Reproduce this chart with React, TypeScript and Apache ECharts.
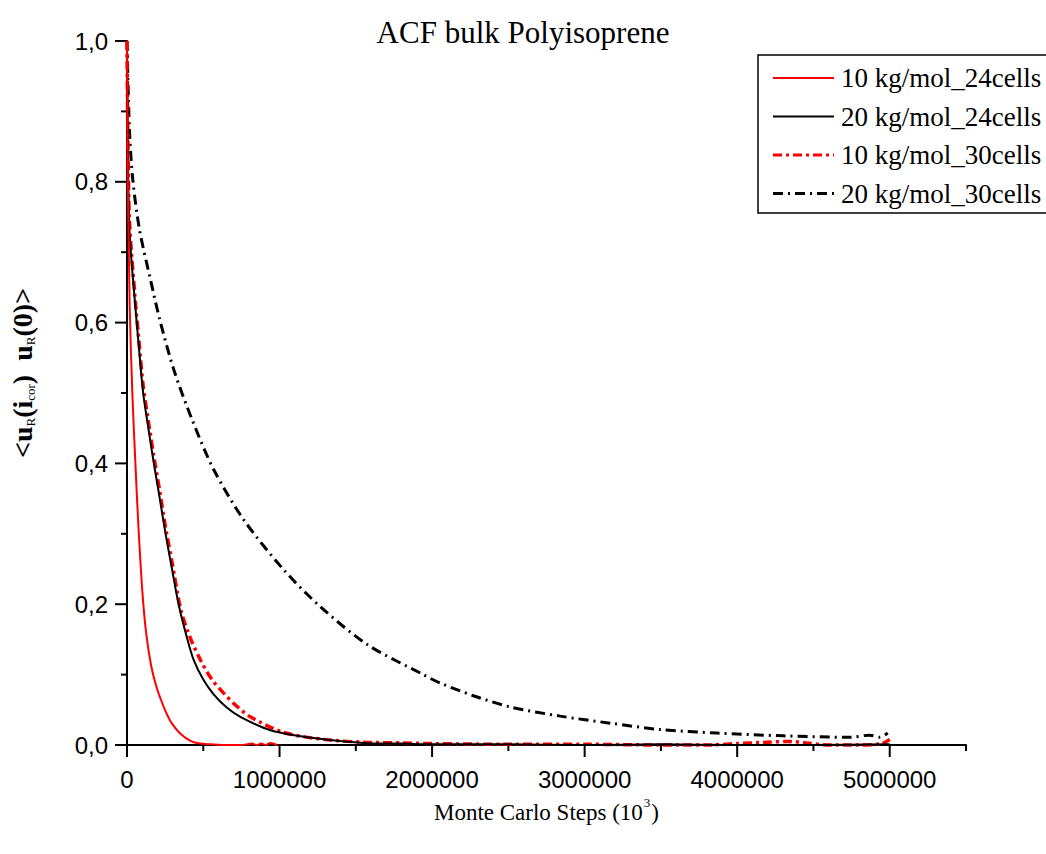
import React, { useEffect, useRef } from "react";
import * as echarts from "echarts";

const seriesNames = [
  "10 kg/mol_24cells",
  "20 kg/mol_24cells",
  "10 kg/mol_30cells",
  "20 kg/mol_30cells",
];

// 10 kg/mol, 24 cells
const steps10k24 = [0, 6000, 18000, 35000, 55000, 75000, 100000, 125000, 158000, 190000, 230000, 263000, 296000, 350000, 416000, 480000, 550000, 620000, 700000, 760000, 820000, 850000, 880000, 910000, 940000, 985000];
const acf10k24 = [1.0, 0.8, 0.62, 0.5, 0.4, 0.31, 0.22, 0.16, 0.113, 0.085, 0.06, 0.043, 0.03, 0.016, 0.006, 0.002, 0.001, 0.0, 0.0, 0.0, 0.002, 0.0, 0.002, 0.0, 0.003, 0.0];

// 20 kg/mol, 24 cells
const steps20k24 = [0, 5000, 16000, 51000, 80000, 106000, 140000, 176000, 215000, 252000, 295000, 338000, 390000, 437000, 500000, 568000, 650000, 743000, 940000, 1222000, 1550000, 1800000, 2000000, 2500000, 3000000, 3500000, 4000000, 4500000, 5000000];
const acf20k24 = [1.0, 0.87, 0.732, 0.632, 0.56, 0.5, 0.45, 0.4, 0.35, 0.301, 0.25, 0.2, 0.155, 0.121, 0.093, 0.072, 0.054, 0.04, 0.021, 0.01, 0.003, 0.002, 0.001, 0.001, 0.0, 0.001, 0.0, 0.0, 0.001];

// 10 kg/mol, 30 cells
const steps10k30 = [0, 5000, 16000, 51000, 80000, 106000, 140000, 176000, 215000, 252000, 295000, 353000, 415000, 481000, 550000, 632000, 720000, 808000, 1025000, 1290000, 1550000, 1800000, 2000000, 2500000, 3000000, 3500000, 3800000, 4000000, 4200000, 4350000, 4450000, 4600000, 4800000, 4950000, 5000000];
const acf10k30 = [1.0, 0.88, 0.745, 0.64, 0.57, 0.51, 0.46, 0.41, 0.36, 0.31, 0.26, 0.192, 0.152, 0.121, 0.095, 0.074, 0.055, 0.04, 0.018, 0.008, 0.004, 0.003, 0.002, 0.001, 0.001, 0.0, 0.0, 0.002, 0.004, 0.005, 0.003, 0.0, 0.0, 0.002, 0.008];

// 20 kg/mol, 30 cells
const steps20k30 = [0, 16000, 38000, 82000, 154000, 215000, 307000, 427000, 569000, 765000, 1027000, 1260000, 1573000, 1942000, 2053000, 2271000, 2513000, 2840000, 3168000, 3495000, 3865000, 4302000, 4740000, 4869000, 4935000, 4987000];
const acf20k30 = [1.0, 0.874, 0.803, 0.732, 0.661, 0.604, 0.533, 0.462, 0.391, 0.32, 0.249, 0.198, 0.143, 0.1, 0.088, 0.07, 0.054, 0.041, 0.031, 0.022, 0.017, 0.013, 0.011, 0.014, 0.011, 0.017];

// axis ticks
const xMajorTicks = [0, 1000000, 2000000, 3000000, 4000000, 5000000];
const xMinorTicks = [500000, 1500000, 2500000, 3500000, 4500000, 5500000];
const yMajorTicks = [0, 0.2, 0.4, 0.6, 0.8, 1.0];
const yMinorTicks = [0.1, 0.3, 0.5, 0.7, 0.9];

const pairs = (xs: number[], ys: number[]) => xs.map((x, i) => [x, ys[i]]);

const seriesStyles = [
  { color: "#ff0000", width: 2, type: "solid" as any },
  { color: "#000000", width: 2, type: "solid" as any },
  { color: "#ff0000", width: 3.5, type: [9, 4, 3, 4] as any },
  { color: "#000000", width: 3, type: [10, 5, 2, 5] as any },
];

const seriesData = [
  pairs(steps10k24, acf10k24),
  pairs(steps20k24, acf20k24),
  pairs(steps10k30, acf10k30),
  pairs(steps20k30, acf20k30),
];

const SERIF = "Liberation Serif";
const SANS = "Liberation Sans";

export default function App() {
  const ref = useRef<HTMLDivElement>(null);
  useEffect(() => {
    if (!ref.current) return;
    const chart = echarts.init(ref.current, undefined, { renderer: "svg" });

    chart.setOption({
      animation: false,
      backgroundColor: "#fff",
      title: {
        text: "ACF bulk Polyisoprene",
        left: "center",
        top: 12,
        textStyle: { fontFamily: SERIF, fontSize: 31, fontWeight: "normal", color: "#000" },
      },
      grid: { left: 126, right: 80, top: 41, bottom: 109 },
      xAxis: {
        type: "value",
        min: 0,
        max: 5500000,
        interval: 1000000,
        name: "{n|Monte Carlo Steps (10}{sup|3}{n|)}",
        nameLocation: "middle",
        nameGap: 51,
        nameTextStyle: {
          rich: {
            n: { fontFamily: SERIF, fontSize: 23, color: "#000", lineHeight: 28, verticalAlign: "bottom" },
            sup: { fontFamily: SERIF, fontSize: 13, color: "#000", lineHeight: 28, verticalAlign: "top", padding: [0, 1, 0, 1] },
          },
        },
        axisLine: { show: true, onZero: false, lineStyle: { color: "#000", width: 2 } },
        axisTick: { show: false },
        axisLabel: {
          margin: 22,
          fontFamily: SANS,
          fontSize: 24,
          color: "#000",
          formatter: (v: number) => (v % 1000000 === 0 ? String(Math.round(v)) : ""),
        },
        splitLine: { show: false },
      },
      yAxis: {
        type: "value",
        min: 0,
        max: 1,
        interval: 0.2,
        name: "{b0|<u}{s|R}{b|(i}{s|cor}{b|)  u}{s|R}{b|(0)>}",
        nameLocation: "middle",
        nameRotate: 90,
        nameGap: 90,
        nameTextStyle: {
          rich: {
            b0: { fontFamily: SERIF, fontWeight: "bold", fontSize: 28, color: "#000", lineHeight: 30, verticalAlign: "middle", padding: [0, 0, 0, 40] },
            b: { fontFamily: SERIF, fontWeight: "bold", fontSize: 28, color: "#000", lineHeight: 30, verticalAlign: "middle" },
            s: { fontFamily: SERIF, fontSize: 13, color: "#000", lineHeight: 13, verticalAlign: "bottom" },
          },
        },
        axisLine: { show: true, onZero: false, lineStyle: { color: "#000", width: 2 } },
        axisTick: { show: false },
        axisLabel: {
          margin: 19,
          fontFamily: SANS,
          fontSize: 24,
          color: "#000",
          formatter: (v: number) => v.toFixed(1).replace(".", ","),
        },
        splitLine: { show: false },
      },
      series: seriesNames.map((n, i) => ({
        name: n,
        type: "line",
        data: seriesData[i],
        symbol: "none",
        showSymbol: false,
        smooth: 0.3,
        clip: false,
        lineStyle: { color: seriesStyles[i].color, width: seriesStyles[i].width, type: seriesStyles[i].type },
        z: 10 - i,
      })),
    });

    // axis ticks as small filled bars, placed through the chart's own scales
    const px = (x: number, y: number) => chart.convertToPixel({ xAxisIndex: 0, yAxisIndex: 0 }, [x, y]) as number[];
    const tickEls: any[] = [];
    const addBar = (x: number, y: number, w: number, h: number) =>
      tickEls.push({ type: "rect", shape: { x, y, width: w, height: h }, style: { fill: "#000" } });
    xMajorTicks.forEach((v) => { const p = px(v, 0); addBar(p[0] - 1, p[1], 2, 12); });
    xMinorTicks.forEach((v) => { const p = px(v, 0); addBar(p[0] - 1, p[1], 2, 6); });
    yMajorTicks.forEach((v) => { const p = px(0, v); addBar(p[0] - 12, p[1] - 1, 12, 2); });
    yMinorTicks.forEach((v) => { const p = px(0, v); addBar(p[0] - 6, p[1] - 1, 6, 2); });

    const legendEls: any[] = [
      {
        type: "rect",
        shape: { x: 758, y: 55, width: 320, height: 158 },
        style: { fill: "#fff", stroke: "#000", lineWidth: 1.5 },
      },
    ];
    const legendTop = 78;
    const legendGap = 38.5;
    seriesNames.forEach((n, i) => {
      const y = legendTop + i * legendGap;
      const st = seriesStyles[i];
      legendEls.push({
        type: "line",
        shape: { x1: 773, y1: y, x2: 834, y2: y },
        style: { stroke: st.color, lineWidth: i < 2 ? 2 : 3, lineDash: Array.isArray(st.type) ? st.type : null },
      });
      legendEls.push({
        type: "text",
        x: 841,
        y: y,
        style: { text: n, fontSize: 27, fontFamily: SERIF, fill: "#000", align: "left", verticalAlign: "middle" },
      });
    });
    chart.setOption({
      graphic: [
        { type: "group", id: "ticks", children: tickEls, z: 100 },
        { type: "group", id: "legend", children: legendEls, z: 100 },
      ],
    });

    return () => chart.dispose();
  }, []);
  return <div ref={ref} style={{ position: "fixed", left: 0, top: 0, width: 1046, height: 854 }} />;
}
